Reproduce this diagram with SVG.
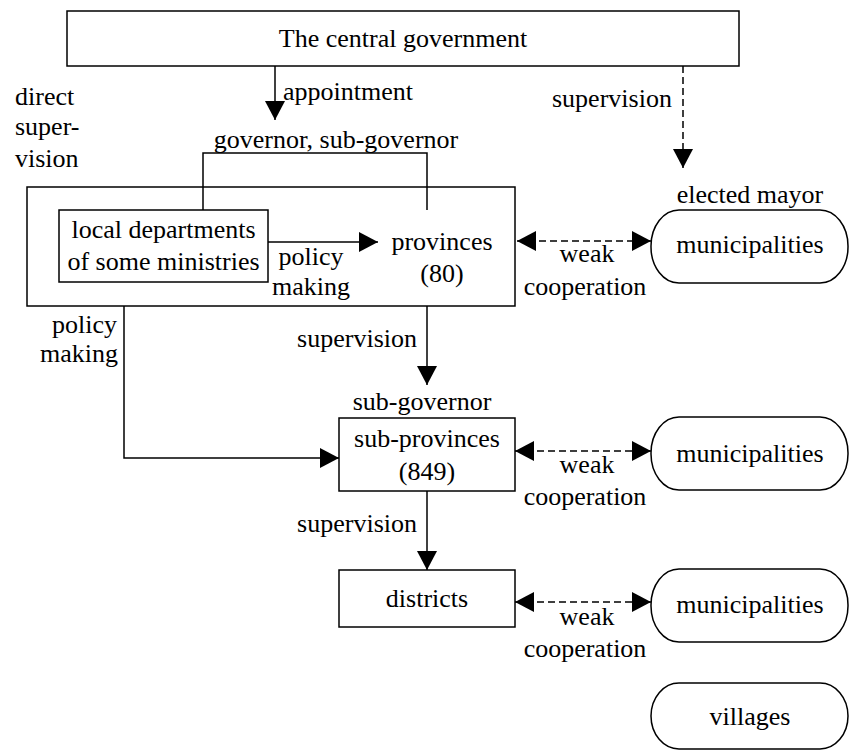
<svg xmlns="http://www.w3.org/2000/svg" width="850" height="751" viewBox="0 0 850 751" font-family="'Liberation Serif', 'Times New Roman', serif" font-size="26">
  <style>
    .box { fill: #fff; stroke: #000; stroke-width: 1.5; }
    .line { fill: none; stroke: #000; stroke-width: 1.5; }
    .dash { fill: none; stroke: #000; stroke-width: 1.5; stroke-dasharray: 7 4; }
    text { font-family: "Liberation Serif", "Times New Roman", serif; font-size: 26px; fill: #000; }
    .c { text-anchor: middle; }
    .e { text-anchor: end; }
  </style>
  <defs>
    <marker id="arrow" viewBox="0 0 19 20" refX="19" refY="10" markerWidth="19" markerHeight="20" markerUnits="userSpaceOnUse" orient="auto-start-reverse">
      <path d="M0,0 L19,10 L0,20 Z" fill="#000" stroke="none"/>
    </marker>
  </defs>

  <rect width="850" height="751" fill="#fff"/>

  <!-- central government -->
  <g id="central">
    <rect class="box" x="67" y="11" width="672" height="55"/>
    <text class="c" x="403" y="47">The central government</text>
  </g>

  <!-- provincial level: outer frame with departments and provinces -->
  <g id="province-frame">
    <rect class="box" x="27" y="187" width="488" height="119"/>
  </g>
  <g id="local-departments">
    <rect class="box" x="59" y="210" width="209" height="72"/>
    <text class="c" x="163.5" y="238">local departments</text>
    <text class="c" x="163.5" y="270">of some ministries</text>
  </g>
  <g id="provinces">
    <text class="c" x="442" y="250">provinces</text>
    <text class="c" x="442" y="282">(80)</text>
  </g>

  <g id="sub-provinces">
    <text class="c" x="422" y="410">sub-governor</text>
    <rect class="box" x="339" y="418" width="176" height="73"/>
    <text class="c" x="427" y="447">sub-provinces</text>
    <text class="c" x="427" y="480">(849)</text>
  </g>

  <g id="districts">
    <rect class="box" x="339" y="570" width="176" height="57"/>
    <text class="c" x="427" y="607">districts</text>
  </g>

  <g id="municipalities-1">
    <text class="c" x="750" y="203">elected mayor</text>
    <rect class="box" x="651" y="210" width="197" height="73" rx="28" ry="36"/>
    <text class="c" x="750" y="253">municipalities</text>
  </g>
  <g id="municipalities-2">
    <rect class="box" x="651" y="417" width="197" height="73" rx="28" ry="36"/>
    <text class="c" x="750" y="462">municipalities</text>
  </g>
  <g id="municipalities-3">
    <rect class="box" x="651" y="569" width="197" height="73" rx="28" ry="36"/>
    <text class="c" x="750" y="613">municipalities</text>
  </g>
  <g id="villages">
    <rect class="box" x="651" y="683" width="197" height="66" rx="28" ry="33"/>
    <text class="c" x="750" y="725">villages</text>
  </g>

  <!-- connectors and their labels -->
  <g id="connectors">
    <path class="line" d="M275,66 V120" marker-end="url(#arrow)"/>
    <text x="283" y="100">appointment</text>

    <path class="dash" d="M683,66 V168" marker-end="url(#arrow)"/>
    <text x="552" y="107">supervision</text>

    <text x="15" y="105">direct</text>
    <text x="15" y="135">super-</text>
    <text x="15" y="167">vision</text>

    <path class="line" d="M203,210 V153 H427 V210"/>
    <text class="c" x="336" y="148">governor, sub-governor</text>

    <path class="line" d="M268,242 H378" marker-end="url(#arrow)"/>
    <text class="c" x="311" y="265">policy</text>
    <text class="c" x="311" y="295">making</text>

    <path class="dash" d="M517,241 H651" marker-start="url(#arrow)" marker-end="url(#arrow)"/>
    <text class="c" x="587" y="262">weak</text>
    <text class="c" x="585" y="295">cooperation</text>

    <path class="line" d="M427,306 V385" marker-end="url(#arrow)"/>
    <text class="e" x="417" y="347">supervision</text>

    <path class="line" d="M124,306 V458 H339" marker-end="url(#arrow)"/>
    <text class="e" x="117" y="333">policy</text>
    <text class="e" x="118" y="362">making</text>

    <path class="dash" d="M515,451 H651" marker-start="url(#arrow)" marker-end="url(#arrow)"/>
    <text class="c" x="587" y="473">weak</text>
    <text class="c" x="585" y="505">cooperation</text>

    <path class="line" d="M427,491 V570" marker-end="url(#arrow)"/>
    <text class="e" x="417" y="532">supervision</text>

    <path class="dash" d="M515,602 H651" marker-start="url(#arrow)" marker-end="url(#arrow)"/>
    <text class="c" x="587" y="625">weak</text>
    <text class="c" x="585" y="657">cooperation</text>
  </g>
</svg>
